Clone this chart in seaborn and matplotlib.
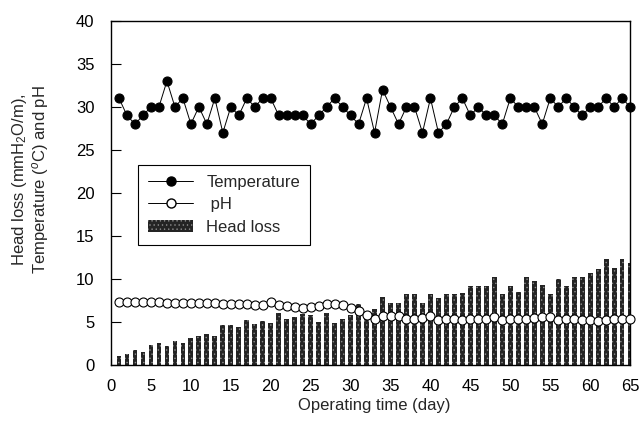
import matplotlib
matplotlib.use("Agg")
import matplotlib.pyplot as plt
import seaborn as sns
import pandas as pd
from matplotlib.lines import Line2D
from matplotlib.patches import Patch

days = list(range(1, 66))
temperature = [31, 29, 28, 29, 30, 30, 33, 30, 31, 28,
               30, 28, 31, 27, 30, 29, 31, 30, 31, 31,
               29, 29, 29, 29, 28, 29, 30, 31, 30, 29,
               28, 31, 27, 32, 30, 28, 30, 30, 27, 31,
               27, 28, 30, 31, 29, 30, 29, 29, 28, 31,
               30, 30, 30, 28, 31, 30, 31, 30, 29, 30,
               30, 31, 30, 31, 30]
ph = [7.3, 7.3, 7.3, 7.3, 7.3, 7.3, 7.2, 7.2, 7.2, 7.2,
      7.2, 7.2, 7.2, 7.1, 7.1, 7.1, 7.1, 7.0, 7.0, 7.3,
      7.0, 6.8, 6.7, 6.6, 6.7, 6.9, 7.1, 7.1, 7.0, 6.6,
      6.3, 5.8, 5.4, 5.7, 5.7, 5.7, 5.4, 5.3, 5.5, 5.7,
      5.2, 5.3, 5.3, 5.2, 5.3, 5.4, 5.3, 5.6, 5.2, 5.4,
      5.4, 5.3, 5.5, 5.6, 5.6, 5.2, 5.3, 5.3, 5.2, 5.2,
      5.15, 5.2, 5.3, 5.3, 5.3]
head_loss = [1.05, 1.3, 1.8, 1.5, 2.3, 2.5, 2.2, 2.75, 2.6, 3.1,
             3.4, 3.6, 3.4, 4.7, 4.7, 4.4, 5.2, 4.8, 5.1, 4.9,
             6.1, 5.3, 5.6, 5.9, 5.8, 5.0, 6.1, 4.9, 5.4, 5.8,
             7.1, 6.0, 6.45, 7.9, 7.15, 7.15, 8.2, 8.2, 7.15, 8.2,
             7.75, 8.2, 8.3, 8.4, 9.2, 9.2, 9.2, 10.2, 8.2, 9.2,
             8.45, 10.25, 9.75, 9.25, 8.3, 10.05, 9.2, 10.25, 10.2, 10.7,
             11.2, 12.3, 11.25, 12.3, 11.8]

x_ticks = list(range(0, 70, 5))
y_ticks = list(range(0, 45, 5))
labels = ["Temperature", " pH", "Head loss"]

sns.set_style("ticks")
plt.rcParams["font.family"] = ["Liberation Sans", "DejaVu Sans"]
plt.rcParams["mathtext.fontset"] = "custom"
plt.rcParams["mathtext.rm"] = "Liberation Sans"
plt.rcParams["mathtext.it"] = "Liberation Sans:italic"
plt.rcParams["hatch.linewidth"] = 0.5

df = pd.DataFrame({"day": days, "temp": temperature, "ph": ph, "hl": head_loss})

fig = plt.figure(figsize=(6.44, 4.34), dpi=100)
ax = fig.add_axes([0.1724, 0.159, 0.806, 0.793])

bar_face = "#242424"
bar_hatch = "#8c8c8c"
sns.barplot(data=df, x="day", y="hl", native_scale=True, width=0.6,
            color=bar_face, saturation=1, ax=ax, errorbar=None,
            edgecolor=bar_hatch, linewidth=0, hatch="....", zorder=2)

sns.lineplot(data=df, x="day", y="ph", ax=ax, color="black", linewidth=0.7,
             marker="o", markersize=6.5, markerfacecolor="white",
             markeredgecolor="black", markeredgewidth=0.8, zorder=3,
             clip_on=False)
sns.lineplot(data=df, x="day", y="temp", ax=ax, color="black", linewidth=0.7,
             marker="o", markersize=6.5, markerfacecolor="black",
             markeredgecolor="black", markeredgewidth=0.8, zorder=4,
             clip_on=False)

ax.set_xlim(0, 65)
ax.set_ylim(0, 40)
ax.set_xticks(x_ticks)
ax.set_yticks(y_ticks)
ax.tick_params(axis="y", direction="in", length=7, width=0.8, pad=12,
               labelsize=12, colors="black")
ax.tick_params(axis="x", direction="in", length=4, width=0.8, pad=10,
               labelsize=12, colors="black")
for s in ax.spines.values():
    s.set_visible(True)
    s.set_color("black")
    s.set_linewidth(1.0)

ax.set_xlabel("Operating time (day)", fontsize=12)
ax.xaxis.set_label_coords(0.508, -0.095)
ax.set_ylabel("Head loss (mmH$_2$O/m),\nTemperature ($^o$C) and pH",
              fontsize=12, linespacing=1.05)
ax.yaxis.set_label_coords(-0.116, 0.54)

handles = [
    Line2D([], [], color="black", linewidth=0.7, marker="o", markersize=6.5,
           markerfacecolor="black", markeredgecolor="black"),
    Line2D([], [], color="black", linewidth=0.7, marker="o", markersize=6.5,
           markerfacecolor="white", markeredgecolor="black"),
    Patch(facecolor=bar_face, edgecolor=bar_hatch, hatch="....", linewidth=0),
]
leg = ax.legend(handles, labels, loc="upper left",
                bbox_to_anchor=(0.052, 0.582), fontsize=12, frameon=True,
                fancybox=False, edgecolor="black", framealpha=1,
                handlelength=2.7, handletextpad=0.8, borderpad=0.6,
                labelspacing=0.45, borderaxespad=0)
leg.get_frame().set_linewidth(0.8)

fig.savefig("out.png", dpi=100)
